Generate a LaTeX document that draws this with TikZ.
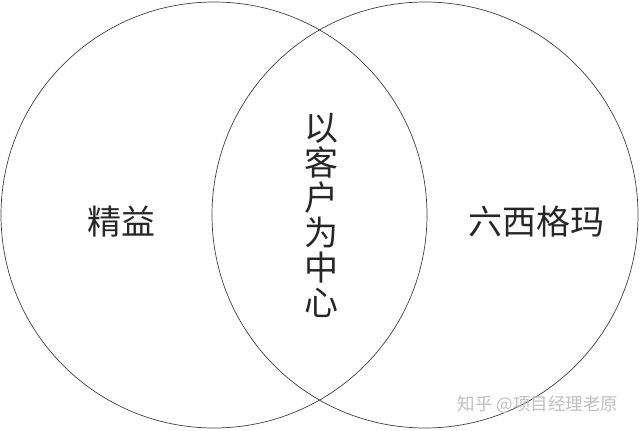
\documentclass[tikz,border=0pt]{standalone}
\usepackage{fontspec}
\newfontfamily\cjk{Noto Sans CJK SC}
\tikzset{
  ring/.style={draw=black!75, line width=0.7pt},
  bigword/.style={font=\cjk\fontsize{34}{35}\selectfont, text=black!85, inner sep=0pt},
}
\begin{document}
\begin{tikzpicture}[x=1pt, y=1pt]

  \newcommand\Rad{213};
  \newcommand\Mid{216};

  \useasboundingbox (0,0) rectangle (640,431);

  \draw[ring] (214, \Mid) circle (\Rad);
  \draw[ring] (425, \Mid) circle (\Rad);

  \node[bigword] (lean) at (121, 209) {精益};
  \node[bigword] (sigma) at (536, 209) {六西格玛};
  \node[bigword, align=center] (customer) at (321, 216) {以\\客\\户\\为\\中\\心};

  %% watermark
  \node[font=\cjk\fontsize{17.5}{19}\selectfont, text=black!25, inner sep=0pt] (zhihu) at (538, 26) {知乎 @项目经理老原};
\end{tikzpicture}
\end{document}
